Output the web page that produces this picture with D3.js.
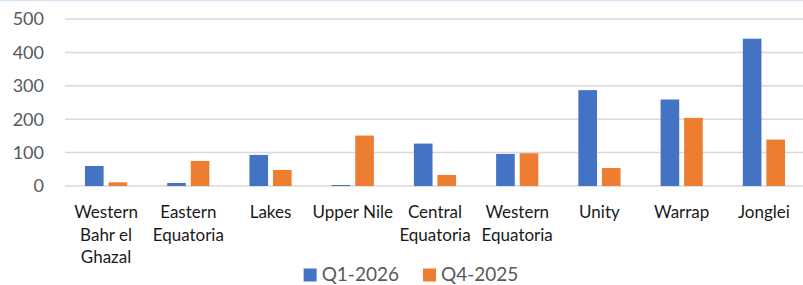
<!DOCTYPE html>
<html>
<head>
<meta charset="utf-8">
<script src="https://cdn.jsdelivr.net/npm/d3@7"></script>
<style>
  html, body { margin: 0; padding: 0; background: #fff; }
  svg { display: block; }
  text { font-family: Lato, "Open Sans", sans-serif; }
</style>
</head>
<body>
<svg id="chart"></svg>
<script>
var width = 803,
  height = 285;

// data
var categories = ['Western Bahr el Ghazal', 'Eastern Equatoria', 'Lakes', 'Upper Nile',
  'Central Equatoria', 'Western Equatoria', 'Unity', 'Warrap', 'Jonglei'];
var series = ['Q1-2026', 'Q4-2025'];
var q1_2026 = [60, 9, 93, 3, 127, 96, 287, 259, 441];
var q4_2025 = [11, 75, 48, 151, 33, 98, 54, 204, 139];
var yTicks = [0, 100, 200, 300, 400, 500];
var colors = ['#4472C4', '#ED7D31'];

function draw() {
  var svg, x0, x1, y, rows, group, labels, legend, legendX, items, total;

  svg = d3.select('#chart')
    .attr('width', width)
    .attr('height', height);

  x0 = d3.scaleBand()
    .domain(categories)
    .range([65, 805])
    .paddingInner(0.487)
    .paddingOuter(0.243);

  x1 = d3.scaleBand()
    .domain(series)
    .range([0, x0.bandwidth()])
    .paddingInner(0.21);

  y = d3.scaleLinear()
    .domain([0, 500])
    .range([186, 19]);

  rows = categories.map(function(c, i) {
    return {name: c, values: [q1_2026[i], q4_2025[i]]};
  });

  // top border
  svg.append('line')
    .attr('x1', 0).attr('x2', width)
    .attr('y1', 0.5).attr('y2', 0.5)
    .attr('stroke', '#d6e1f2')
    .attr('stroke-width', 1.5);

  // GRID
  svg.append('g')
    .selectAll('line')
    .data(yTicks)
    .enter()
    .append('line')
    .attr('x1', 65)
    .attr('x2', width)
    .attr('y1', function(d) { return y(d); })
    .attr('y2', function(d) { return y(d); })
    .attr('stroke', '#d9d9d9')
    .attr('stroke-width', 1.5);

  // Y LABELS
  svg.append('g')
    .selectAll('text')
    .data(yTicks)
    .enter()
    .append('text')
    .attr('x', 44)
    .attr('y', function(d) { return y(d); })
    .attr('dy', '0.36em')
    .attr('text-anchor', 'end')
    .attr('fill', '#595959')
    .style('font-size', '18px')
    .text(function(d) { return d; });

  // BARS
  group = svg.append('g')
    .selectAll('g')
    .data(rows)
    .enter()
    .append('g')
    .attr('transform', function(d) { return 'translate(' + x0(d.name) + ',0)'; });

  group.selectAll('rect')
    .data(function(d) {
      return d.values.map(function(v, i) { return {key: series[i], value: v, i: i}; });
    })
    .enter()
    .append('rect')
    .attr('x', function(d) { return x1(d.key); })
    .attr('y', function(d) { return y(d.value); })
    .attr('width', x1.bandwidth())
    .attr('height', function(d) { return y(0) - y(d.value); })
    .attr('fill', function(d) { return colors[d.i]; });

  // X LABELS
  labels = svg.append('g')
    .selectAll('text')
    .data(categories)
    .enter()
    .append('text')
    .attr('x', function(d) { return x0(d) + x0.bandwidth() / 2; })
    .attr('y', 218)
    .attr('text-anchor', 'middle')
    .attr('fill', '#1a1a1a')
    .style('font-size', '17px')
    .each(wrap);

  function wrap(d) {
    var text = d3.select(this),
        words = d.split(' '),
        lines = [],
        line = [],
        tspan = text.append('tspan'),
        maxWidth = 88;
    words.forEach(function(w) {
      line.push(w);
      tspan.text(line.join(' '));
      if (tspan.node().getComputedTextLength() > maxWidth && line.length > 1) {
        line.pop();
        lines.push(line.join(' '));
        line = [w];
      }
    });
    lines.push(line.join(' '));
    tspan.remove();
    lines.forEach(function(l, i) {
      text.append('tspan')
        .attr('x', text.attr('x'))
        .attr('y', 218 + i * 22.5)
        .text(l);
    });
  }

  // LEGEND
  legend = svg.append('g');
  items = series.map(function(s, i) {
    var g = legend.append('g');
    g.append('rect')
      .attr('y', 268.5)
      .attr('width', 13)
      .attr('height', 13)
      .attr('fill', colors[i]);
    var t = g.append('text')
      .attr('x', 18)
      .attr('y', 281)
      .attr('fill', '#595959')
      .style('font-size', '19px')
      .text(s);
    return {g: g, w: 18 + t.node().getComputedTextLength()};
  });
  total = d3.sum(items, function(d) { return d.w; }) + 24;
  legendX = 411 - total / 2;
  items.forEach(function(it) {
    it.g.attr('transform', 'translate(' + legendX + ',0)');
    legendX += it.w + 24;
  });
}

window.onload = draw;
</script>
</body>
</html>
